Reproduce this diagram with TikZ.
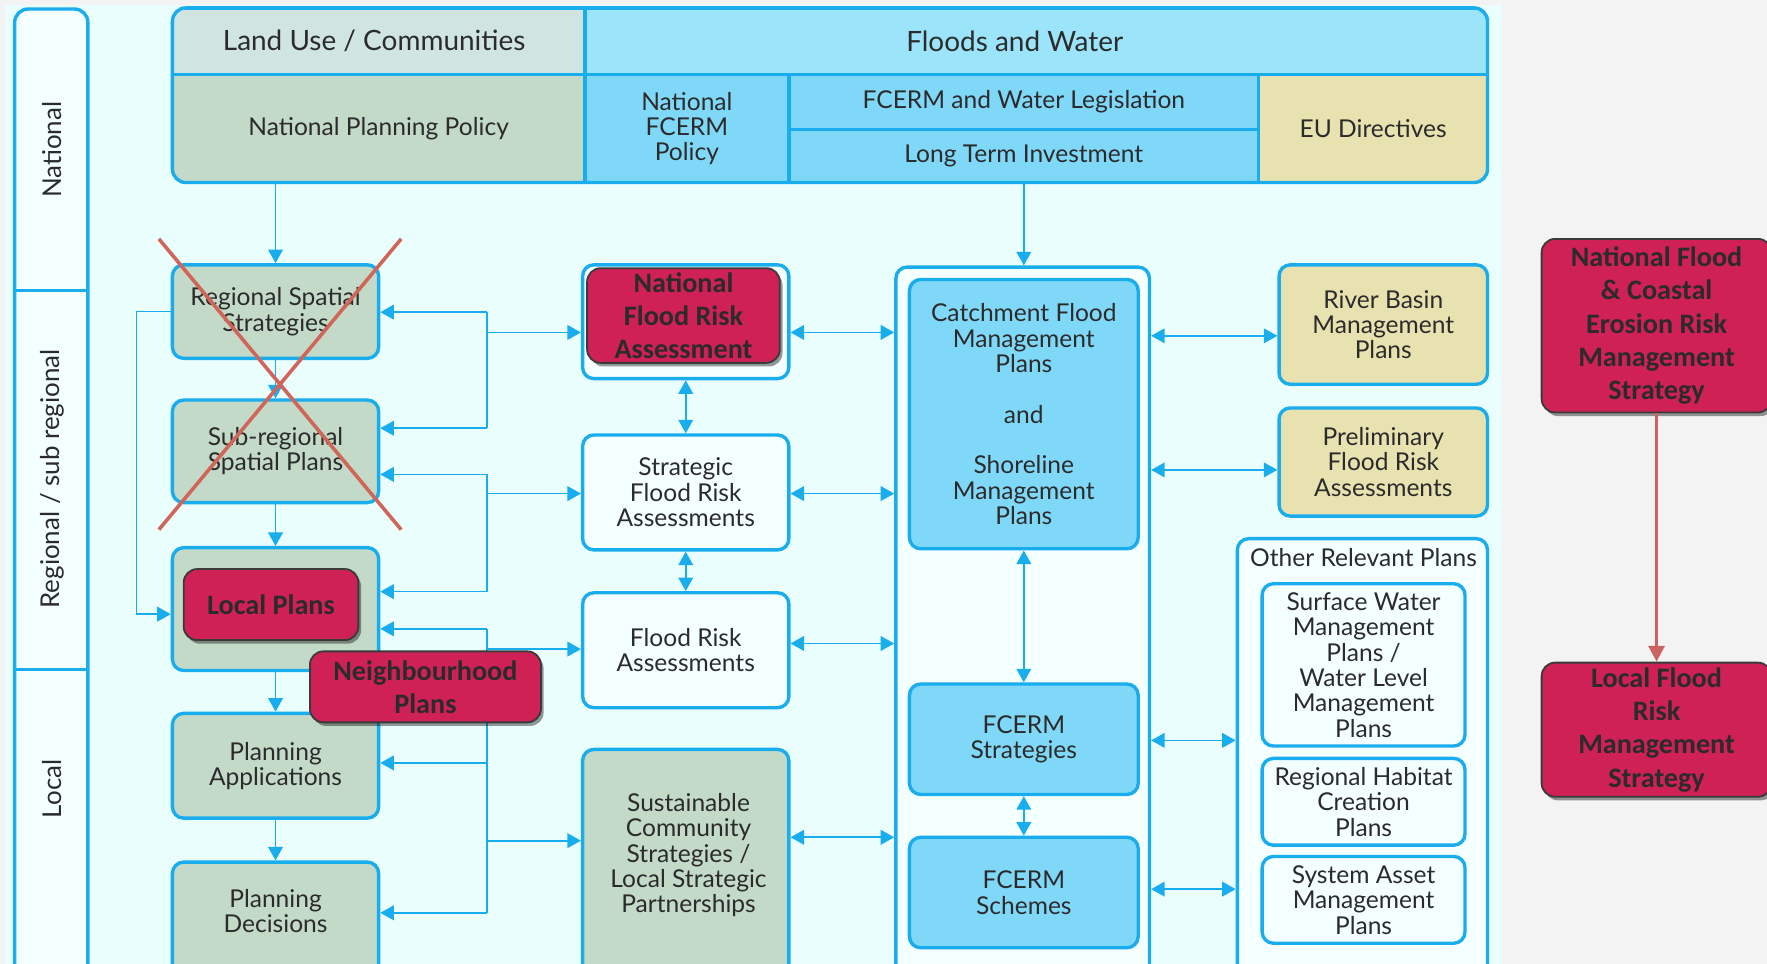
\documentclass[tikz,border=0pt]{standalone}
\usepackage{fontspec}
\setmainfont{Lato}
\newfontfamily\redfont{Carlito}
\usetikzlibrary{arrows.meta,shadows}
\definecolor{bgGrey}{HTML}{F3F3F3}
\definecolor{panel}{HTML}{EBFEFE}
\definecolor{bord}{HTML}{1AADEE}
\definecolor{sage}{HTML}{C4DAC8}
\definecolor{luHead}{HTML}{D0E5E2}
\definecolor{fwHead}{HTML}{9BE4FA}
\definecolor{blueCell}{HTML}{80D8F8}
\definecolor{beige}{HTML}{E8E2B0}
\definecolor{redbox}{HTML}{D02156}
\definecolor{redEdge}{HTML}{3A3A3A}
\definecolor{crossRed}{HTML}{D0665A}
\definecolor{redArrow}{HTML}{CD6262}
\definecolor{txt}{HTML}{2B2B2B}
\definecolor{whitebox}{HTML}{F4FFFF}
\tikzset{
  corners/.style n args={4}{at={(#1/2+#3/2,#2/2+#4/2)},
    minimum width={(#3-#1)*0.5pt}, minimum height={(#4-#2)*0.5pt}},
  plainbox/.style={draw=bord, line width=1.5pt, rounded corners=5pt, inner sep=0pt, align=center,
    font=\fontsize{10.9}{11.25}\selectfont, text=txt},
  sagebox/.style={plainbox, fill=sage},
  whbox/.style={plainbox, fill=whitebox},
  bluebox/.style={plainbox, fill=blueCell},
  beigebox/.style={plainbox, fill=beige},
  cell/.style={draw=bord, line width=1.5pt, inner sep=0pt, align=center, text=txt,
    font=\fontsize{10.9}{11.25}\selectfont},
  hdr/.style={font=\fontsize{12.4}{14}\selectfont},
  lbl/.style={align=center, text=txt, inner sep=0pt, font=\fontsize{10.9}{11.25}\selectfont},
  redb/.style={draw=redEdge, line width=0.8pt, fill=redbox, rounded corners=6pt,
    drop shadow={shadow xshift=1.2pt, shadow yshift=-1.6pt, opacity=0.4, fill=black},
    inner sep=0pt, align=center, text=txt, font=\redfont\bfseries\fontsize{12.5}{14.75}\selectfont},
  conn/.style={draw=bord, line width=0.75pt},
  arr/.style={conn, -{Triangle[length=6pt,width=6.5pt]}},
  darr/.style={conn, {Triangle[length=6pt,width=6.5pt]}-{Triangle[length=6pt,width=6.5pt]}},
  crossline/.style={draw=crossRed, line width=1.6pt},
  levelbl/.style={rotate=90, text=txt, font=\fontsize{11.5}{13}\selectfont},
}
\begin{document}
\begin{tikzpicture}[x=0.5pt, y=-0.5pt]
\clip (0,0) rectangle (1568,855);
\fill[bgGrey] (0,0) rectangle (1568,855);
\fill[panel] (4,4) rectangle (1333,860);

% level column
\draw[draw=bord, line width=1.5pt, rounded corners=6pt, fill=whitebox] (13,8) rectangle (78,890);
\coordinate (lvA) at (13,258);
\coordinate (lvB) at (13,594);
\draw[draw=bord, line width=1.5pt] (lvA) -- ++(65,0);
\draw[draw=bord, line width=1.5pt] (lvB) -- ++(65,0);
\node[levelbl] (lvn) at (46,133) {National};
\node[levelbl] (lvr) at (46,425) {Regional / sub regional};
\node[levelbl] (lvl) at (46,700) {Local};

% header
\begin{scope}
\clip[rounded corners=6pt] (153,7) rectangle (1320,162);
\node[cell, hdr, fill=luHead, corners={153}{7}{519}{66}] (lu) {Land Use / Communities\hspace*{4pt}};
\node[cell, hdr, fill=fwHead, corners={519}{7}{1320}{66}] (fw) {Floods and Water\hspace*{19pt}};
\node[cell, fill=sage, corners={153}{66}{519}{162}] (npp) {National Planning Policy};
\node[cell, fill=blueCell, corners={519}{66}{700}{162}] (nfp) {National\\FCERM\\Policy};
\node[cell, fill=blueCell, corners={700}{66}{1117}{115}] (leg) {FCERM and Water Legislation};
\node[cell, fill=blueCell, corners={700}{115}{1117}{162}] (lti) {Long Term Investment};
\node[cell, fill=beige, corners={1117}{66}{1320}{162}] (eu) {EU Directives};
\end{scope}
\draw[draw=bord, line width=1.5pt, rounded corners=6pt] (153,7) rectangle (1320,162);

% column 1
\node[sagebox, corners={153}{235}{336}{318}] (rss) {Regional Spatial\\Strategies};
\node[sagebox, corners={153}{355}{336}{446}] (srsp) {Sub-regional\\Spatial Plans};
\node[sagebox, corners={153}{486}{336}{595}] (lpc) {};
\node[sagebox, corners={153}{633}{336}{726}] (pa) {Planning\\Applications};
\node[sagebox, corners={153}{765}{336}{900}] (pd) {};
\node[lbl] (pdt) at (244.5,808.5) {Planning\\Decisions};

% column 2
\node[whbox, corners={517}{235}{700}{336}] (nfrac) {};
\node[whbox, corners={517}{386}{700}{488}] (sfra) {Strategic\\Flood Risk\\Assessments};
\node[whbox, corners={517}{526}{700}{628}] (fra) {Flood Risk\\Assessments};
\node[sagebox, corners={517}{665}{700}{900}] (scs) {};
\node[lbl] (scst) at (611,759) {Sustainable\\Community\\Strategies /\\Local Strategic\\Partnerships};

% column 3
\node[whbox, corners={795}{237}{1020}{900}] (c3) {};
\node[bluebox, corners={807}{248}{1010}{487}] (cfmp) {Catchment Flood\\Management\\Plans\\[11.25pt]and\\[11.25pt]Shoreline\\Management\\Plans};
\node[bluebox, corners={807}{607}{1010}{705}] (fst) {FCERM\\Strategies};
\node[bluebox, corners={807}{743}{1010}{841}] (fsch) {FCERM\\Schemes};

% column 4
\node[beigebox, corners={1135}{235}{1320}{341}] (rbmp) {River Basin\\Management\\Plans};
\node[beigebox, corners={1135}{362}{1320}{458}] (pfra) {Preliminary\\Flood Risk\\Assessments};
\node[whbox, corners={1098}{478}{1320}{900}] (orp) {};
\node[lbl] (orpt) at (1210,495) {Other Relevant Plans};
\node[whbox, corners={1120}{518}{1300}{662}] (sw) {Surface Water\\Management\\Plans /\\Water Level\\Management\\Plans};
\node[whbox, corners={1120}{673}{1300}{750}] (rh) {Regional Habitat\\Creation\\Plans};
\node[whbox, corners={1120}{760}{1300}{837}] (sa) {System Asset\\Management\\Plans};

% connectors column 1
\draw[arr] (rss.north |- npp.south) -- (rss.north);
\draw[arr] (rss.south) -- (srsp.north);
\draw[arr] (srsp.south) -- (lpc.north);
\draw[arr] (lpc.south) -- (pa.north);
\draw[arr] (pa.south) -- (pd.north);
\coordinate (byp) at (121,545);
\draw[arr] (rss.west) -| (byp) -- (byp -| lpc.west);

% buses
\coordinate (ba1) at (432,277);
\coordinate (ba2) at (432,380);
\coordinate (ba3) at (432,295);
\draw[conn] (ba1) -- (ba2);
\draw[arr] (ba1) -- (ba1 -| rss.east);
\draw[arr] (ba2) -- (ba2 -| srsp.east);
\draw[arr] (ba3) -- (ba3 -| nfrac.west);
\coordinate (bb1) at (432,421);
\coordinate (bb2) at (432,525);
\coordinate (bb3) at (432,438);
\draw[conn] (bb1) -- (bb2);
\draw[arr] (bb1) -- (bb1 -| srsp.east);
\draw[arr] (bb2) -- (bb2 -| lpc.east);
\draw[arr] (bb3) -- (bb3 -| sfra.west);
\coordinate (bc1) at (432,558);
\coordinate (bc2) at (432,677);
\coordinate (bc3) at (432,810);
\coordinate (bc4) at (432,576);
\coordinate (bc5) at (432,746);
\draw[conn] (bc1) -- (bc3);
\draw[arr] (bc1) -- (bc1 -| lpc.east);
\draw[arr] (bc2) -- (bc2 -| pa.east);
\draw[arr] (bc3) -- (bc3 -| pd.east);
\draw[arr] (bc4) -- (bc4 -| fra.west);
\draw[arr] (bc5) -- (bc5 -| scs.west);

% column 2 <-> column 3
\coordinate (h1) at (0,295);
\coordinate (h2) at (0,438);
\coordinate (h3) at (0,571);
\coordinate (h4) at (0,743);
\draw[darr] (nfrac.east |- h1) -- (c3.west |- h1);
\draw[darr] (sfra.east |- h2) -- (c3.west |- h2);
\draw[darr] (fra.east |- h3) -- (c3.west |- h3);
\draw[darr] (scs.east |- h4) -- (c3.west |- h4);
\draw[darr] (nfrac.south) -- (sfra.north);
\draw[darr] (sfra.south) -- (fra.north);
\draw[darr] (cfmp.south) -- (fst.north);
\draw[darr] (fst.south) -- (fsch.north);
\draw[arr] (lti.south) -- (lti.south |- c3.north);

% column 3 <-> column 4
\coordinate (k1) at (0,298);
\coordinate (k2) at (0,417);
\coordinate (k3) at (0,657);
\coordinate (k4) at (0,789);
\draw[darr] (c3.east |- k1) -- (rbmp.west |- k1);
\draw[darr] (c3.east |- k2) -- (pfra.west |- k2);
\draw[darr] (c3.east |- k3) -- (orp.west |- k3);
\draw[darr] (c3.east |- k4) -- (orp.west |- k4);

% red boxes
\node[redb, corners={521}{238}{692}{322}] (nfra) {National\\Flood Risk\\Assessment};
\node[redb, corners={163}{505}{318}{568}] (lp) {Local Plans};
\node[redb, corners={275}{578}{480}{641}] (np) {Neighbourhood\\Plans};
\node[redb, corners={1368}{212}{1572}{366}] (nfcerm) {National Flood\\\& Coastal\\Erosion Risk\\Management\\Strategy};
\node[redb, corners={1368}{588}{1572}{707}] (lfrms) {Local Flood\\Risk\\Management\\Strategy};
\draw[draw=redArrow, line width=1.5pt, -{Triangle[length=7pt,width=7pt]}] (nfcerm.south) -- (lfrms.north);

% crosses
\coordinate (x1) at (141,212);
\coordinate (x2) at (356,470);
\coordinate (x3) at (356,212);
\coordinate (x4) at (141,470);
\draw[crossline] (x1) -- (x2);
\draw[crossline] (x3) -- (x4);
\end{tikzpicture}
\end{document}
